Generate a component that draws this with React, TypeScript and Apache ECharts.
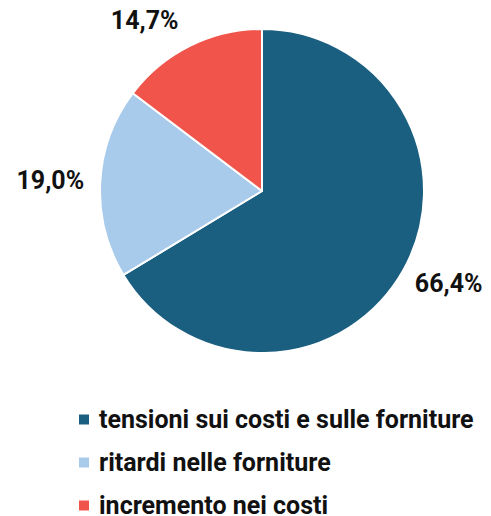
import React, { useEffect, useRef } from "react";
import * as echarts from "echarts";

const categories = [
  "tensioni sui costi e sulle forniture",
  "ritardi nelle forniture",
  "incremento nei costi",
];
const values = [66.4, 19.0, 14.7];
const labels = ["66,4%", "19,0%", "14,7%"];
const colors = ["#1a5e80", "#a8caeb", "#f0544a"];

export default function App() {
  const ref = useRef<HTMLDivElement>(null);
  useEffect(() => {
    if (!ref.current) return;
    const chart = echarts.init(ref.current, null, { renderer: "svg" });
    const data = categories.map((name, i) => ({
      name,
      value: values[i],
      itemStyle: { color: colors[i] },
    }));
    chart.setOption({
      animation: false,
      legend: {
        orient: "vertical",
        left: 69,
        top: 399,
        height: 200,
        padding: 0,
        itemWidth: 12,
        itemHeight: 12,
        itemGap: 18,
        icon: "rect",
        data: categories,
        selectedMode: false,
        textStyle: {
          fontFamily: "Roboto",
          fontWeight: "bold",
          fontSize: 25,
          lineHeight: 18,
          color: "#111",
          padding: [0, 0, 0, 4],
        },
      },
      series: [
        {
          type: "pie",
          center: [254, 183],
          radius: [0, 162],
          startAngle: 90,
          clockwise: true,
          silent: true,
          itemStyle: { borderColor: "#fff", borderWidth: 2 },
          label: { show: false },
          labelLine: { show: false },
          data,
        },
        {
          type: "pie",
          center: [254, 183],
          radius: [200, 218],
          startAngle: 90,
          clockwise: true,
          silent: true,
          itemStyle: { color: "transparent", borderWidth: 0 },
          label: {
            show: true,
            position: "inside",
            formatter: (p: any) => labels[p.dataIndex],
            fontFamily: "Roboto",
            fontWeight: "bold",
            fontSize: 25,
            color: "#111",
          },
          labelLayout: (p: any) =>
            p.dataIndex === 2 ? { dx: -23, dy: 19 } : p.dataIndex === 0 ? { dx: 2, dy: -12 } : {},
          labelLine: { show: false },
          emphasis: { disabled: true },
          data: categories.map((name, i) => ({
            name: name + " ",
            value: values[i],
          })),
        },
      ],
    });
    return () => chart.dispose();
  }, []);
  return <div ref={ref} style={{ width: 475, height: 508 }} />;
}
